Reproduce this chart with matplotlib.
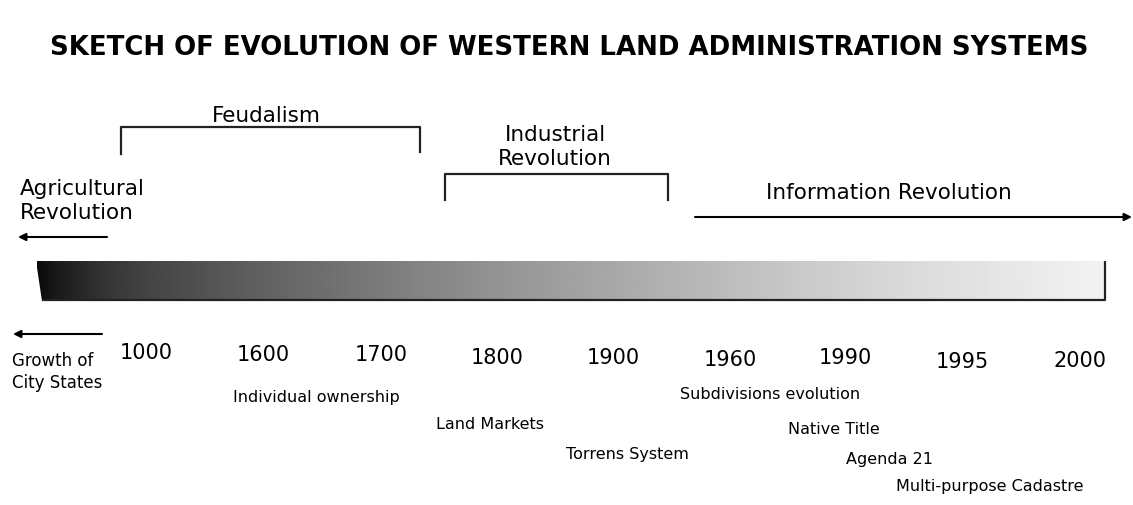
import numpy as np
import matplotlib
matplotlib.use("Agg")
import matplotlib.pyplot as plt
from matplotlib.patches import Polygon

# ---- content ----
title = "SKETCH OF EVOLUTION OF WESTERN LAND ADMINISTRATION SYSTEMS"
years = ["1000", "1600", "1700", "1800", "1900", "1960", "1990", "1995", "2000"]
eras = ["Feudalism", "Industrial\nRevolution", "Information Revolution", "Agricultural\nRevolution"]
events = ["Individual ownership", "Land Markets", "Torrens System", "Subdivisions evolution",
          "Native Title", "Agenda 21", "Multi-purpose Cadastre"]
left_note = "Growth of\nCity States"

# ---- layout (pixel coordinates of the 1133x506 canvas) ----
year_x = [146, 263, 381, 497, 613, 730, 845, 962, 1080]
year_base = [359, 361, 361, 364, 364, 366, 364, 368, 367]
event_x = [233, 436, 566, 680, 788, 846, 896]
event_base = [402, 429, 459, 399, 434, 464, 491]
bar_x0, bar_x1, bar_top, bar_bot = 37, 1105, 262, 302
grad_stop_x = [37, 55, 100, 150, 250, 400, 500, 600, 700, 800, 900, 1000, 1105]
grad_stop_v = [0.04, 0.10, 0.20, 0.27, 0.37, 0.50, 0.58, 0.65, 0.72, 0.79, 0.85, 0.90, 0.95]

fig = plt.figure(figsize=(11.33, 5.06), dpi=100)
ax = fig.add_axes([0, 0, 1, 1])
ax.set_xlim(0, 1133)
ax.set_ylim(506, 0)
ax.axis("off")

# title
ax.text(569, 55, title, ha="center", va="baseline", fontsize=18.7, fontweight="bold",
        family="DejaVu Sans", color="black")

# gradient bar
xs = np.linspace(bar_x0, bar_x1, 600)
vals = np.interp(xs, grad_stop_x, grad_stop_v)
im = ax.imshow(np.vstack([vals, vals]), cmap="gray", vmin=0, vmax=1,
               extent=(bar_x0, bar_x1, bar_bot, bar_top), aspect="auto",
               interpolation="bilinear", zorder=1)
clip = Polygon([(36, bar_top), (bar_x1, bar_top), (bar_x1, bar_bot), (42, bar_bot)],
               closed=True, transform=ax.transData, facecolor="none", edgecolor="none")
ax.add_patch(clip)
im.set_clip_path(clip)
ax.set_xlim(0, 1133)
ax.set_ylim(506, 0)
ax.plot([42, bar_x1, bar_x1], [bar_bot - 1, bar_bot - 1, bar_top], color="#222222", lw=1.6,
        solid_capstyle="butt", zorder=2)

# brackets
ax.plot([121, 121, 420, 420], [155, 128, 128, 153], color="#222222", lw=1.6)
ax.plot([445, 445, 668, 668], [201, 175, 175, 201], color="#222222", lw=1.6)

# arrows
arrow = dict(arrowstyle="-|>", color="black", lw=1.5, mutation_scale=11, shrinkA=0, shrinkB=0)
ax.annotate("", xy=(18, 238), xytext=(107, 238), arrowprops=arrow)
ax.annotate("", xy=(1132, 218), xytext=(695, 218), arrowprops=arrow)
ax.annotate("", xy=(13, 335), xytext=(102, 335), arrowprops=arrow)

# era labels
ax.text(266, 122, eras[0], ha="center", va="baseline", fontsize=15.5)
ax.text(555, 165, eras[1], ha="center", va="baseline", fontsize=15.5, linespacing=1.25)
ax.text(766, 199, eras[2], ha="left", va="baseline", fontsize=15.5)
ax.text(20, 219, eras[3], ha="left", va="baseline", fontsize=15.5, linespacing=1.25)

# left note
ax.text(12, 388, left_note, ha="left", va="baseline", fontsize=12, linespacing=1.3)

# years
for lab, x, b in zip(years, year_x, year_base):
    ax.text(x, b, lab, ha="center", va="baseline", fontsize=15)

# events
for lab, x, b in zip(events, event_x, event_base):
    ax.text(x, b, lab, ha="left", va="baseline", fontsize=11.5)

fig.savefig("out.png", dpi=100, facecolor="white")
